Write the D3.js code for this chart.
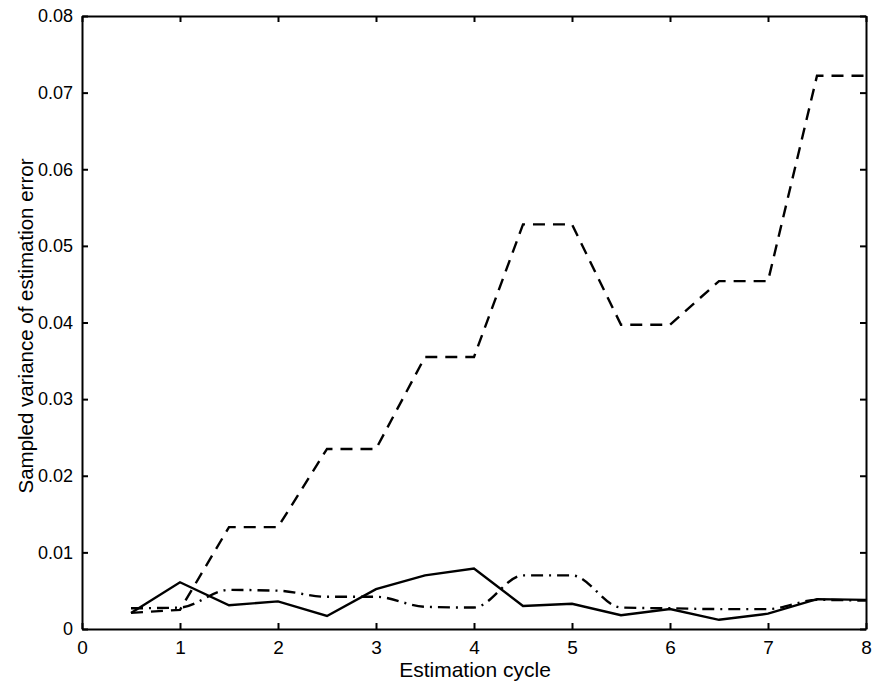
<!DOCTYPE html>
<html>
<head>
<meta charset="utf-8">
<script src="https://cdn.jsdelivr.net/npm/d3@7"></script>
<style>
  body { margin: 0; background: #fff; }
  text { font-family: "Liberation Sans", Arial, sans-serif; fill: #000; }
</style>
</head>
<body>
<svg id="chart" width="873" height="689"></svg>
<script>
// estimation cycles (half steps)
const cycles = [0.5, 1, 1.5, 2, 2.5, 3, 3.5, 4, 4.5, 5, 5.5, 6, 6.5, 7, 7.5, 8];
const dashedVals = [0.0021, 0.0025, 0.0133, 0.0133, 0.0235, 0.0235, 0.0355, 0.0355,
  0.0528, 0.0528, 0.0397, 0.0397, 0.0454, 0.0454, 0.0722, 0.0722];
const solidVals = [0.0021, 0.0061, 0.0031, 0.0036, 0.0017, 0.0052, 0.0070, 0.0079,
  0.0030, 0.0033, 0.0018, 0.0026, 0.0012, 0.0020, 0.0039, 0.0038];
const dashDotVals = [0.0027, 0.0028, 0.0051, 0.0050, 0.0042, 0.0042, 0.0029, 0.0028,
  0.0070, 0.0070, 0.0028, 0.0027, 0.0026, 0.0026, 0.0038, 0.0037];
const xTicks = [0, 1, 2, 3, 4, 5, 6, 7, 8];
const yTicks = [0, 0.01, 0.02, 0.03, 0.04, 0.05, 0.06, 0.07, 0.08];

const margin = {top: 16, right: 7, bottom: 60, left: 82};
const width = 873 - margin.left - margin.right;
const height = 689 - margin.top - margin.bottom;

const svg = d3.select('#chart');
const g = svg.append('g').attr('transform', `translate(${margin.left},${margin.top})`);

const x = d3.scaleLinear().domain([0, 8]).range([0, width]);
const y = d3.scaleLinear().domain([0, 0.08]).range([height, 0]);

const fmtY = (d) => d === 0 ? '0' : d.toFixed(2);

// axes, matlab style: inward ticks on all four sides
const tickLen = 6;
const xAxis = g.append('g').attr('transform', `translate(0,${height})`)
  .call(d3.axisBottom(x).tickValues(xTicks).tickSizeInner(-tickLen).tickSizeOuter(0).tickPadding(12).tickFormat(d3.format('d')));
g.append('g')
  .call(d3.axisTop(x).tickValues(xTicks).tickSizeInner(-tickLen).tickSizeOuter(0).tickFormat(''));
const yAxis = g.append('g')
  .call(d3.axisLeft(y).tickValues(yTicks).tickSizeInner(-tickLen).tickSizeOuter(0).tickPadding(9).tickFormat(fmtY));
g.append('g').attr('transform', `translate(${width},0)`)
  .call(d3.axisRight(y).tickValues(yTicks).tickSizeInner(-tickLen).tickSizeOuter(0).tickFormat(''));

g.selectAll('.domain').attr('stroke', '#000').attr('stroke-width', 2);
g.selectAll('.tick line').attr('stroke', '#000').attr('stroke-width', 2);
xAxis.selectAll('.tick text').attr('font-size', 19).attr('fill', '#000');
yAxis.selectAll('.tick text').attr('font-size', 18).attr('fill', '#000');

const seriesList = [
  {vals: dashedVals, dash: '12,8', curve: d3.curveLinear},
  {vals: solidVals, dash: null, curve: d3.curveLinear},
  {vals: dashDotVals, dash: '12,6,2,6', curve: d3.curveMonotoneX}
];

seriesList.forEach((s) => {
  const line = d3.line()
    .x((d, i) => x(cycles[i]))
    .y((d) => y(d))
    .curve(s.curve);
  g.append('path')
    .datum(s.vals)
    .attr('fill', 'none')
    .attr('stroke', '#000')
    .attr('stroke-width', 2.4)
    .attr('stroke-dasharray', s.dash)
    .attr('d', line);
});

g.append('text')
  .attr('x', width / 2 + 1)
  .attr('y', height + 48)
  .attr('text-anchor', 'middle')
  .attr('font-size', 21)
  .text('Estimation cycle');

g.append('text')
  .attr('transform', `translate(-49,${310}) rotate(-90)`)
  .attr('text-anchor', 'middle')
  .attr('font-size', 20.5)
  .text('Sampled variance of estimation error');
</script>
</body>
</html>
